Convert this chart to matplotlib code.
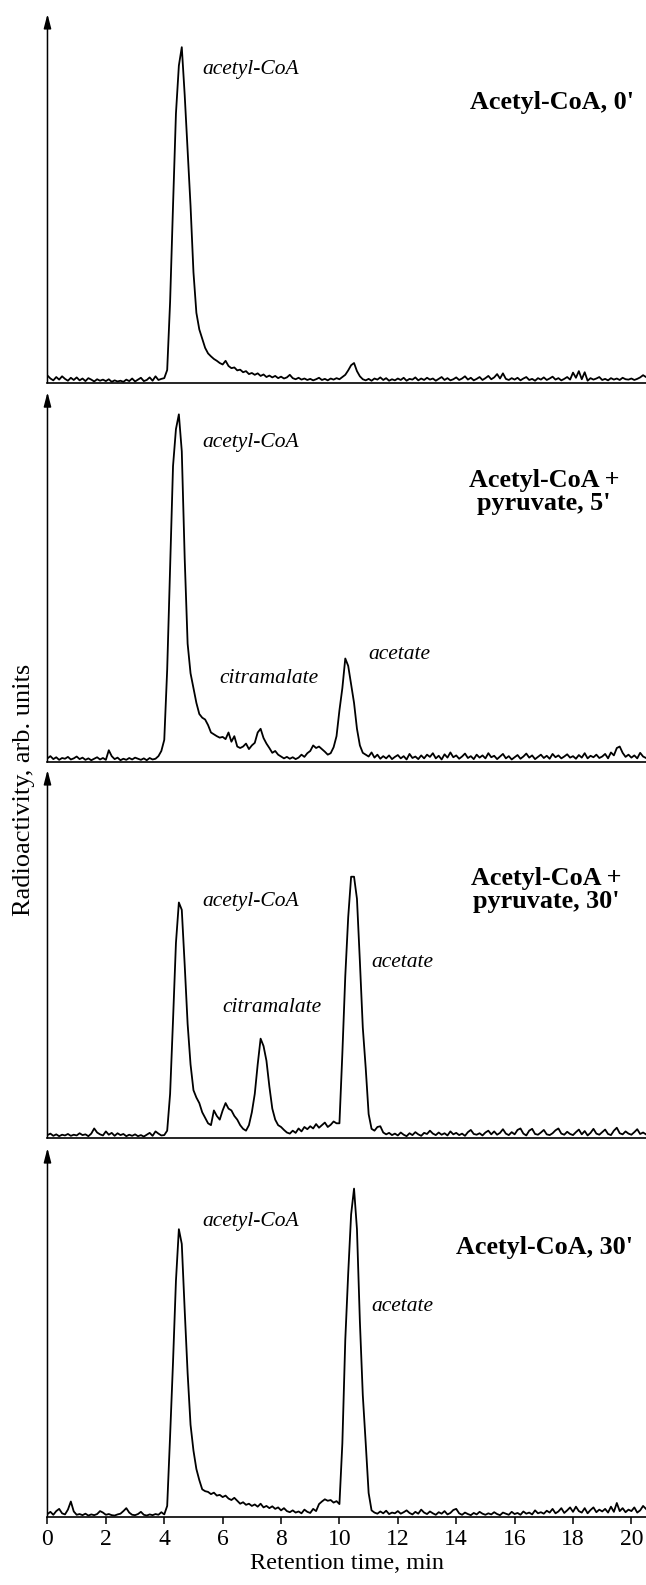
import matplotlib.pyplot as plt
import numpy as np

plt.rcParams["font.family"] = ["Liberation Serif", "DejaVu Serif"]

# retention time grid, min (0.1 min sampling)
time = np.round(np.arange(206) * 0.1, 1)

# radioactivity, % of panel height
acetyl_0 = [
    2.0, 1.2, 0.7, 1.6, 0.9, 1.8, 1.1, 0.6, 1.4, 0.8,
    1.5, 0.7, 1.2, 0.5, 1.3, 0.9, 0.4, 1.0, 0.6, 0.9,
    0.5, 1.0, 0.3, 0.7, 0.4, 0.6, 0.3, 0.9, 0.5, 1.2,
    0.4, 0.9, 1.4, 0.5, 0.8, 1.5, 0.6, 1.8, 0.8, 1.1,
    1.3, 3.5, 22.0, 48.0, 73.0, 86.0, 91.0, 78.0, 63.0, 48.0,
    30.0, 19.0, 14.5, 12.0, 9.5, 8.0, 7.2, 6.5, 6.0, 5.4,
    5.0, 6.0, 4.6, 4.0, 4.2, 3.4, 3.6, 2.9, 3.2, 2.4,
    2.7, 2.2, 2.6, 1.9, 2.3, 1.6, 2.0, 1.5, 1.9, 1.3,
    1.7, 1.2, 1.5, 2.2, 1.3, 1.0, 1.4, 0.9, 1.2, 0.8,
    1.1, 0.7, 1.0, 1.4, 0.8, 1.1, 0.7, 1.2, 0.9, 1.3,
    1.0, 1.6, 2.2, 3.4, 4.8, 5.4, 3.2, 1.8, 1.0, 0.7,
    1.1, 0.6, 1.2, 0.9, 1.5, 0.8, 1.3, 0.6, 1.0, 0.7,
    1.2, 0.8, 1.4, 0.6, 1.1, 0.9, 1.5, 0.7, 1.2, 0.8,
    1.4, 0.9, 1.2, 0.6, 1.1, 1.6, 0.8, 1.3, 0.7, 1.0,
    1.5, 0.8, 1.2, 1.8, 0.9, 1.4, 0.7, 1.1, 1.6, 0.8,
    1.3, 1.9, 1.0, 1.5, 2.4, 1.2, 2.6, 1.1, 0.8, 1.3,
    0.9, 1.4, 0.7, 1.2, 1.6, 0.8, 1.1, 0.6, 1.3, 0.9,
    1.5, 0.8, 1.2, 1.7, 0.9, 1.3, 0.7, 1.1, 1.6, 0.9,
    2.8, 1.4, 3.2, 1.0, 2.9, 0.6, 1.3, 0.9, 1.2, 1.6,
    0.8, 1.1, 0.7, 1.3, 0.9, 1.2, 0.8, 1.4, 1.0, 0.9,
    1.2, 0.8, 1.1, 1.5, 2.1, 1.6,
]

pyruvate_5 = [
    1.0, 1.6, 0.8, 1.3, 0.6, 1.1, 0.9, 1.4, 0.7, 1.0,
    1.5, 0.8, 1.2, 0.6, 1.0, 0.5, 0.9, 1.3, 0.7, 1.1,
    0.6, 3.2, 1.6, 0.8, 1.2, 0.5, 0.9, 0.6, 1.1, 0.7,
    1.2, 0.9, 0.6, 1.0, 0.5, 1.1, 0.7, 0.9, 1.6, 3.0,
    6.0, 25.0, 52.0, 80.0, 90.0, 94.0, 84.0, 55.0, 32.0, 24.0,
    20.0, 16.0, 13.0, 12.0, 11.5, 10.0, 8.0, 7.5, 7.0, 6.6,
    6.8, 6.2, 8.0, 5.5, 7.0, 4.2, 3.8, 4.2, 5.0, 3.5,
    4.5, 5.2, 8.0, 9.0, 6.5, 5.0, 3.8, 2.5, 3.0, 2.0,
    1.5, 1.0, 1.4, 0.9, 1.3, 0.8, 1.2, 2.0, 1.4, 2.4,
    3.0, 4.5, 3.8, 4.2, 3.5, 2.8, 2.0, 2.4, 4.0, 7.0,
    14.0, 20.0, 28.0, 26.0, 21.0, 16.0, 9.0, 4.5, 2.5, 2.0,
    1.5, 2.6, 1.2, 2.0, 0.9, 1.6, 1.0, 1.8, 0.8, 1.4,
    1.9, 1.0, 1.6, 0.7, 2.2, 1.1, 1.5, 0.8, 1.8, 1.0,
    2.0, 1.4, 2.4, 1.0, 1.7, 0.7, 2.1, 1.2, 2.6, 1.3,
    1.8, 0.9, 1.5, 2.3, 1.1, 1.6, 0.8, 2.0, 1.2, 1.8,
    1.0, 2.4, 1.3, 1.7, 0.8, 1.5, 2.2, 1.0, 1.6, 0.7,
    1.3, 1.9, 0.9, 1.5, 2.3, 1.2, 1.8, 0.8, 1.4, 2.0,
    1.1, 1.7, 0.9, 2.2, 1.3, 1.8, 1.0, 1.5, 2.1, 1.2,
    1.6, 0.9, 1.9, 1.2, 2.4, 1.0, 1.7, 1.3, 2.0, 1.1,
    1.5, 2.2, 1.0, 2.6, 1.8, 3.8, 4.2, 2.5, 1.4, 2.0,
    1.2, 1.8, 1.0, 2.5, 1.5, 1.1,
]

pyruvate_30 = [
    0.8, 1.2, 0.6, 1.0, 0.5, 0.9, 0.7, 1.1, 0.6, 0.9,
    0.7, 1.3, 0.8, 1.0, 0.5, 1.2, 2.6, 1.5, 1.0, 0.7,
    1.8, 0.9, 1.4, 0.6, 1.3, 0.8, 1.1, 0.5, 0.9, 0.6,
    1.0, 0.5, 0.8, 0.4, 0.9, 1.4, 0.6, 1.8, 1.2, 0.7,
    0.8, 2.0, 12.0, 32.0, 53.0, 64.0, 62.0, 47.0, 31.0, 20.0,
    13.0, 11.0, 9.5, 7.0, 5.5, 4.0, 3.5, 7.5, 6.0, 5.0,
    7.5, 9.5, 8.0, 7.5, 6.0, 5.0, 3.5, 2.5, 2.0, 3.5,
    7.0, 12.0, 20.0, 27.0, 25.0, 21.0, 14.0, 8.0, 5.0, 3.5,
    3.0, 2.2, 1.5, 1.2, 2.0, 1.4, 2.6, 1.8, 3.0, 2.4,
    3.2, 2.6, 3.8, 2.8, 3.5, 4.2, 3.0, 3.6, 4.5, 4.0,
    4.0, 23.0, 44.0, 60.0, 71.0, 71.0, 65.0, 48.0, 30.0, 19.0,
    6.5, 2.5, 2.0, 3.0, 3.2, 1.5, 1.0, 1.4, 0.8, 1.2,
    0.7, 1.5, 0.9, 0.5, 1.3, 0.8, 1.6, 1.0, 0.6, 1.4,
    1.1, 2.0, 1.2, 0.8, 1.5, 0.9, 1.3, 0.7, 1.8, 1.0,
    1.4, 0.8, 1.2, 0.6, 1.6, 2.2, 1.1, 0.9, 1.3, 0.7,
    1.5, 2.0, 1.0, 1.8, 0.9, 1.4, 2.4, 1.2, 0.8, 1.6,
    1.0, 2.2, 2.6, 1.2, 0.7, 2.0, 2.5, 1.1, 0.9, 1.5,
    2.2, 1.0, 0.8, 1.3, 2.1, 2.6, 1.2, 0.9, 1.7, 1.1,
    0.8, 1.6, 2.3, 1.0, 1.9, 0.7, 1.4, 2.5, 1.2, 0.9,
    1.6, 2.3, 1.1, 0.8, 2.0, 2.8, 1.3, 1.0, 1.8, 1.2,
    0.9, 1.6, 2.4, 1.1, 1.5, 1.0,
]

acetyl_30 = [
    0.8, 1.4, 0.6, 1.6, 2.2, 1.0, 0.7, 2.0, 4.2, 1.5,
    0.6, 0.8, 0.5, 0.9, 0.4, 0.7, 0.5, 0.8, 1.6, 1.2,
    0.6, 0.8, 0.5, 0.4, 0.7, 0.9, 1.6, 2.4, 1.2, 0.6,
    0.5, 0.8, 1.4, 0.6, 0.4, 0.7, 0.5, 0.8, 0.6, 1.3,
    0.7, 3.0, 22.0, 42.0, 64.0, 78.0, 74.0, 56.0, 39.0, 25.0,
    18.0, 13.0, 10.0, 7.5, 7.0, 6.8, 6.2, 6.6, 5.8, 6.0,
    5.4, 5.8, 5.0, 4.6, 5.2, 4.4, 3.6, 4.0, 3.3, 3.6,
    3.0, 3.4, 2.8, 3.6, 2.6, 3.0, 2.4, 2.9, 2.2, 2.6,
    1.8, 2.4, 1.6, 1.3, 1.8, 1.2, 1.5, 1.0, 2.0, 1.4,
    1.1, 2.2, 1.6, 3.5, 4.2, 4.8, 4.4, 4.6, 3.9, 4.3,
    3.5, 20.0, 48.0, 66.0, 82.0, 89.0, 78.0, 53.0, 33.0, 20.0,
    6.5, 1.8, 1.2, 0.9, 1.5, 1.0, 1.7, 0.8, 1.2, 1.0,
    1.6, 0.9, 1.3, 1.8, 1.1, 0.7, 1.4, 0.9, 2.0, 1.2,
    0.8, 1.5, 1.0, 0.6, 1.3, 0.9, 1.6, 0.7, 1.1, 1.9,
    2.2, 1.0, 0.6, 1.2, 0.8, 0.5, 1.1, 0.7, 1.4, 0.9,
    0.6, 1.0, 0.7, 1.3, 0.8, 0.5, 1.2, 0.9, 0.6, 1.4,
    0.8, 1.1, 0.6, 1.5, 0.9, 1.2, 0.7, 1.8, 1.0, 1.3,
    0.9, 1.7, 1.2, 2.2, 1.0, 1.5, 2.4, 1.1, 1.8, 2.6,
    1.4, 2.8, 1.6, 1.2, 2.4, 1.0, 1.9, 2.6, 1.3, 2.0,
    1.5, 2.2, 1.2, 2.8, 1.4, 3.8, 1.6, 2.4, 1.3, 2.0,
    1.6, 2.6, 1.2, 1.8, 3.0, 2.2,
]

traces = [acetyl_0, pyruvate_5, pyruvate_30, acetyl_30]
titles = ["Acetyl-CoA, 0'", "Acetyl-CoA +\npyruvate, 5'",
          "Acetyl-CoA +\npyruvate, 30'", "Acetyl-CoA, 30'"]
tick_labels = [str(v) for v in range(0, 21, 2)]

# layout: axes boxes in figure fraction, label positions (t, %)
boxes = [
    [0.0735, 0.7584, 0.9265, 0.2328],
    [0.0735, 0.5192, 0.9265, 0.2334],
    [0.0735, 0.2820, 0.9265, 0.2322],
    [0.0735, 0.0429, 0.9265, 0.2328],
]
title_pos = [(20.1, 76, "right"), (17.0, 73, "center"),
             (17.1, 67.5, "center"), (20.05, 73, "right")]
peak_labels = [
    [("acetyl-CoA", 5.3, 85)],
    [("acetyl-CoA", 5.3, 86.5), ("citramalate", 5.9, 22.7), ("acetate", 11.0, 29)],
    [("acetyl-CoA", 5.3, 64.4), ("citramalate", 6.0, 35.6), ("acetate", 11.1, 47.8)],
    [("acetyl-CoA", 5.3, 80), ("acetate", 11.1, 57)],
]

fig = plt.figure(figsize=(6.46, 15.85), dpi=100)

for i, trace in enumerate(traces):
    ax = fig.add_axes(boxes[i])
    ax.plot(time, trace, color="black", lw=1.3)
    ax.set_xlim(0, 20.5)
    ax.set_ylim(0, 100)
    for s in ["top", "right", "left"]:
        ax.spines[s].set_visible(False)
    ax.spines["bottom"].set_linewidth(1.2)
    ax.annotate("", xy=(0, 1), xytext=(0, 0), xycoords="axes fraction",
                arrowprops=dict(arrowstyle="-|>,head_length=0.85,head_width=0.22",
                                lw=1.1, color="black", shrinkA=0, shrinkB=0),
                annotation_clip=False)
    ax.set_yticks([])
    if i == len(traces) - 1:
        ax.set_xticks(range(0, 21, 2))
        ax.set_xticklabels(tick_labels)
        ax.tick_params(axis="x", labelsize=17, length=5, width=1.1, direction="out")
        ax.set_xlabel("Retention time, min", fontsize=17.5, labelpad=2)
    else:
        ax.set_xticks([])

    tx, ty, ha = title_pos[i]
    ax.text(tx, ty, titles[i], fontsize=18.8, fontweight="bold", ha=ha,
            va="center", multialignment="center", linespacing=1.0)
    for label, lx, ly in peak_labels[i]:
        ax.text(lx, ly, label, fontsize=15.5, style="italic", ha="left", va="center")

fig.text(24 / 646, 1 - 790 / 1585, "Radioactivity, arb. units", fontsize=19,
         rotation=90, ha="center", va="center")

fig.savefig("out.png", dpi=100)
